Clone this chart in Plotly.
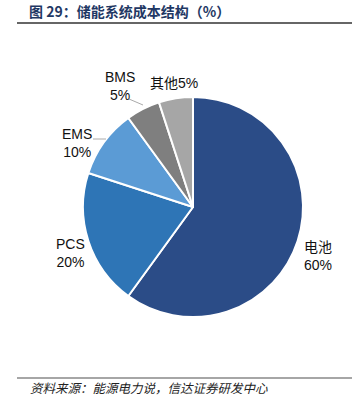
import plotly.graph_objects as go

labels = ["电池", "PCS", "EMS", "BMS", "其他"]
values = [60, 20, 10, 5, 5]
colors = ["#2B4C87", "#2E75B6", "#5B9BD5", "#7F7F7F", "#A6A6A6"]
title_text = "图 29：储能系统成本结构（%）"
source_text = "资料来源：能源电力说，信达证券研发中心"

W, H = 357, 410
OFF = 0  # page body margin removed via post_script


def px(x):
    return (x - OFF) / W


def py(y):
    return 1 - (y - OFF) / H


fig = go.Figure()
fig.add_trace(go.Pie(
    labels=labels, values=values, sort=False, direction="clockwise", rotation=0,
    marker=dict(colors=colors, line=dict(color="white", width=2)),
    textinfo="none", hoverinfo="label+percent", showlegend=False,
    domain=dict(x=[px(83), px(303)], y=[py(317), py(97)]),
))

lab_font = dict(family="Liberation Sans, Arial, Noto Sans CJK SC", size=14, color="#111111")
label_pos = {
    "电池": (318, 256),
    "PCS": (70, 253),
    "EMS": (77, 143),
    "BMS": (120, 86),
}
for lab, val in zip(labels, values):
    if lab in label_pos:
        x, y = label_pos[lab]
        fig.add_annotation(x=px(x), y=py(y), xref="paper", yref="paper",
                           text=f"{lab}<br>{val}%", showarrow=False, font=lab_font,
                           xanchor="center", yanchor="middle", align="center")
fig.add_annotation(x=px(174), y=py(83), xref="paper", yref="paper",
                   text=f"{labels[4]}{values[4]}%", showarrow=False, font=lab_font,
                   xanchor="center", yanchor="middle")

shapes = [
    dict(type="line", xref="paper", yref="paper", x0=px(17), x1=px(352), y0=py(23), y1=py(23),
         line=dict(color="#333333", width=1.5)),
    dict(type="line", xref="paper", yref="paper", x0=px(17), x1=px(352), y0=py(378), y1=py(378),
         line=dict(color="#888888", width=1.5)),
    dict(type="line", xref="paper", yref="paper", x0=px(129), x1=px(143), y0=py(99), y1=py(105),
         line=dict(color="#AAAAAA", width=1)),
    dict(type="line", xref="paper", yref="paper", x0=px(93), x1=px(106), y0=py(139), y1=py(139),
         line=dict(color="#AAAAAA", width=1)),
]

fig.add_annotation(x=px(27), y=py(11), xref="paper", yref="paper", text=f"<b>{title_text}</b>",
                   showarrow=False, xanchor="left", yanchor="middle",
                   font=dict(family="Noto Sans CJK SC", size=14, color="#1F3864"))
fig.add_annotation(x=px(28), y=py(387), xref="paper", yref="paper", text=f"<i>{source_text}</i>",
                   showarrow=False, xanchor="left", yanchor="middle",
                   font=dict(family="Noto Sans CJK SC", size=12.5, color="#222222"))

fig.update_layout(width=W, height=H, margin=dict(l=0, r=0, t=0, b=0),
                  paper_bgcolor="white", plot_bgcolor="white", shapes=shapes)
fig.write_html("out.html", config={"displayModeBar": False},
               post_script="document.body.style.margin='0';document.body.style.padding='0';")
